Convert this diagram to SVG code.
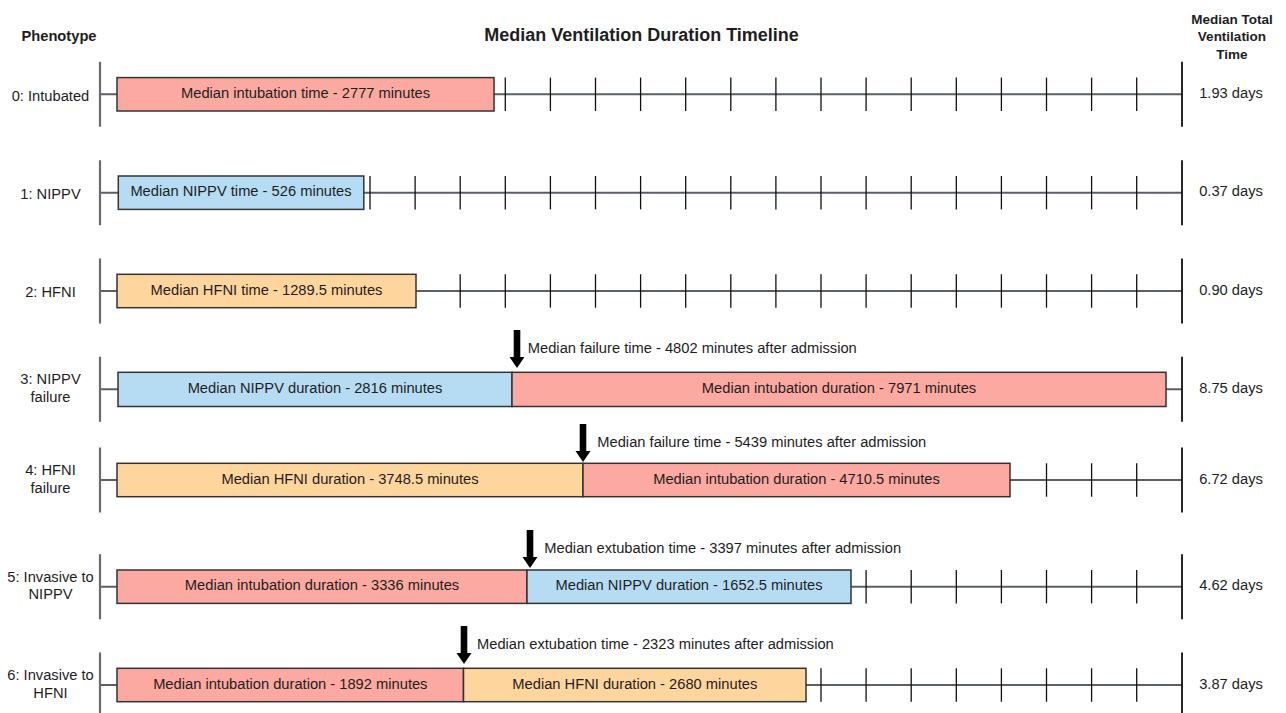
<svg xmlns="http://www.w3.org/2000/svg" width="1286" height="713" viewBox="0 0 1286 713">
<style>
text{font-family:"Liberation Sans",Arial,sans-serif;fill:#1e1e1e;font-size:14.7px}
.h{font-weight:bold}
.t{font-size:18px;font-weight:bold}
.ht{font-size:13.5px;font-weight:bold}
.m{text-anchor:middle}
.pk{fill:#fca9a1;stroke:#333;stroke-width:1.5}
.bl{fill:#b6dcf3;stroke:#333;stroke-width:1.5}
.or{fill:#fed59d;stroke:#333;stroke-width:1.5}
.ax{stroke:#59606a;stroke-width:2;fill:none}
.lv{stroke:#6b6b6b;stroke-width:2.2;fill:none}
.ev{stroke:#111;stroke-width:1.8;fill:none}
.tk{stroke:#111;stroke-width:1.3;fill:none}
.ar{fill:#000}
</style>
<defs>
<path id="tk" class="tk" d="M0,-16.7V16.7"/>
<path id="arw" class="ar" d="M-3.3,0H3.3V27H7.5L0,38L-7.5,27H-3.3Z"/>
</defs>
<rect width="1286" height="713" fill="#fff"/>
<g id="headers">
<text class="h m" x="59" y="40.5">Phenotype</text>
<text class="t m" x="641.5" y="41">Median Ventilation Duration Timeline</text>
<text class="ht m" x="1232" y="23.5">Median Total</text>
<text class="ht m" x="1232" y="41">Ventilation</text>
<text class="ht m" x="1232" y="58.5">Time</text>
</g>
<g id="connectors">
<g id="axes">
<path class="ax" d="M100,94.3H1182M100,192.7H1182M100,291H1182M100,389.3H1182M100,480H1182M100,586.7H1182M100,685H1182"/>
<path class="lv" d="M100,61.8V126.8M100,160.2V225.2M100,258.5V323.5M100,356.8V421.8M100,447.5V512.5M100,554.2V619.2M100,652.5V717.5"/>
<path class="ev" d="M1182,61.8V126.8M1182,160.2V225.2M1182,258.5V323.5M1182,356.8V421.8M1182,447.5V512.5M1182,554.2V619.2M1182,652.5V717.5"/>
</g>
<g id="ticks">
<g transform="translate(0,94.3)"><use href="#tk" x="505.3"/><use href="#tk" x="550.4"/><use href="#tk" x="595.5"/><use href="#tk" x="640.6"/><use href="#tk" x="685.7"/><use href="#tk" x="730.8"/><use href="#tk" x="775.9"/><use href="#tk" x="821"/><use href="#tk" x="866.1"/><use href="#tk" x="911.2"/><use href="#tk" x="956.3"/><use href="#tk" x="1001.4"/><use href="#tk" x="1046.5"/><use href="#tk" x="1091.6"/><use href="#tk" x="1136.7"/></g>
<g transform="translate(0,192.7)"><use href="#tk" x="370"/><use href="#tk" x="415.1"/><use href="#tk" x="460.2"/><use href="#tk" x="505.3"/><use href="#tk" x="550.4"/><use href="#tk" x="595.5"/><use href="#tk" x="640.6"/><use href="#tk" x="685.7"/><use href="#tk" x="730.8"/><use href="#tk" x="775.9"/><use href="#tk" x="821"/><use href="#tk" x="866.1"/><use href="#tk" x="911.2"/><use href="#tk" x="956.3"/><use href="#tk" x="1001.4"/><use href="#tk" x="1046.5"/><use href="#tk" x="1091.6"/><use href="#tk" x="1136.7"/></g>
<g transform="translate(0,291)"><use href="#tk" x="460.2"/><use href="#tk" x="505.3"/><use href="#tk" x="550.4"/><use href="#tk" x="595.5"/><use href="#tk" x="640.6"/><use href="#tk" x="685.7"/><use href="#tk" x="730.8"/><use href="#tk" x="775.9"/><use href="#tk" x="821"/><use href="#tk" x="866.1"/><use href="#tk" x="911.2"/><use href="#tk" x="956.3"/><use href="#tk" x="1001.4"/><use href="#tk" x="1046.5"/><use href="#tk" x="1091.6"/><use href="#tk" x="1136.7"/></g>
<g transform="translate(0,480)"><use href="#tk" x="1046.5"/><use href="#tk" x="1091.6"/><use href="#tk" x="1136.7"/></g>
<g transform="translate(0,586.7)"><use href="#tk" x="866.1"/><use href="#tk" x="911.2"/><use href="#tk" x="956.3"/><use href="#tk" x="1001.4"/><use href="#tk" x="1046.5"/><use href="#tk" x="1091.6"/><use href="#tk" x="1136.7"/></g>
<g transform="translate(0,685)"><use href="#tk" x="821"/><use href="#tk" x="866.1"/><use href="#tk" x="911.2"/><use href="#tk" x="956.3"/><use href="#tk" x="1001.4"/><use href="#tk" x="1046.5"/><use href="#tk" x="1091.6"/><use href="#tk" x="1136.7"/></g>
</g>
<g id="arrows">
<use href="#arw" x="517" y="330"/>
<use href="#arw" x="583" y="424"/>
<use href="#arw" x="530" y="530"/>
<use href="#arw" x="464" y="626"/>
</g>
</g>
<g id="row0">
<text class="m" x="50.5" y="101">0: Intubated</text>
<g id="r0-intubation"><rect class="pk" x="117" y="77.6" width="377" height="33.4"/><text class="m" x="305.5" y="97.9">Median intubation time - 2777 minutes</text></g>
<text class="m" x="1231" y="97.9">1.93 days</text>
</g>
<g id="row1">
<text class="m" x="50.5" y="199">1: NIPPV</text>
<g id="r1-nippv"><rect class="bl" x="118.3" y="176" width="245.5" height="33.4"/><text class="m" x="241" y="196.3">Median NIPPV time - 526 minutes</text></g>
<text class="m" x="1231" y="196.3">0.37 days</text>
</g>
<g id="row2">
<text class="m" x="50.5" y="296.5">2: HFNI</text>
<g id="r2-hfni"><rect class="or" x="117" y="274.3" width="299" height="33.4"/><text class="m" x="266.5" y="294.6">Median HFNI time - 1289.5 minutes</text></g>
<text class="m" x="1231" y="294.6">0.90 days</text>
</g>
<g id="row3">
<text class="m" x="50.5" y="384">3: NIPPV</text>
<text class="m" x="50.5" y="401.8">failure</text>
<g id="r3-nippv"><rect class="bl" x="118" y="372.3" width="394" height="34.2"/><text class="m" x="315" y="393.2">Median NIPPV duration - 2816 minutes</text></g>
<g id="r3-intubation"><rect class="pk" x="512" y="372.3" width="654" height="34.2"/><text class="m" x="839" y="393.2">Median intubation duration - 7971 minutes</text></g>
<text x="527.8" y="353.3">Median failure time - 4802 minutes after admission</text>
<text class="m" x="1231" y="393.2">8.75 days</text>
</g>
<g id="row4">
<text class="m" x="50.5" y="474.8">4: HFNI</text>
<text class="m" x="50.5" y="492.6">failure</text>
<g id="r4-hfni"><rect class="or" x="117" y="463.3" width="466" height="33.4"/><text class="m" x="350" y="483.6">Median HFNI duration - 3748.5 minutes</text></g>
<g id="r4-intubation"><rect class="pk" x="583" y="463.3" width="427" height="33.4"/><text class="m" x="796.5" y="483.6">Median intubation duration - 4710.5 minutes</text></g>
<text x="597.3" y="447.2">Median failure time - 5439 minutes after admission</text>
<text class="m" x="1231" y="483.6">6.72 days</text>
</g>
<g id="row5">
<text class="m" x="50.5" y="581.5">5: Invasive to</text>
<text class="m" x="50.5" y="599.3">NIPPV</text>
<g id="r5-intubation"><rect class="pk" x="117" y="570" width="410" height="33.4"/><text class="m" x="322" y="590.3">Median intubation duration - 3336 minutes</text></g>
<g id="r5-nippv"><rect class="bl" x="527" y="570" width="324" height="33.4"/><text class="m" x="689" y="590.3">Median NIPPV duration - 1652.5 minutes</text></g>
<text x="544.3" y="553.2">Median extubation time - 3397 minutes after admission</text>
<text class="m" x="1231" y="590.3">4.62 days</text>
</g>
<g id="row6">
<text class="m" x="50.5" y="679.8">6: Invasive to</text>
<text class="m" x="50.5" y="697.6">HFNI</text>
<g id="r6-intubation"><rect class="pk" x="117" y="668.3" width="346.5" height="33.4"/><text class="m" x="290.3" y="688.6">Median intubation duration - 1892 minutes</text></g>
<g id="r6-hfni"><rect class="or" x="463.5" y="668.3" width="342.5" height="33.4"/><text class="m" x="634.8" y="688.6">Median HFNI duration - 2680 minutes</text></g>
<text x="477" y="649.2">Median extubation time - 2323 minutes after admission</text>
<text class="m" x="1231" y="688.6">3.87 days</text>
</g>
</svg>
